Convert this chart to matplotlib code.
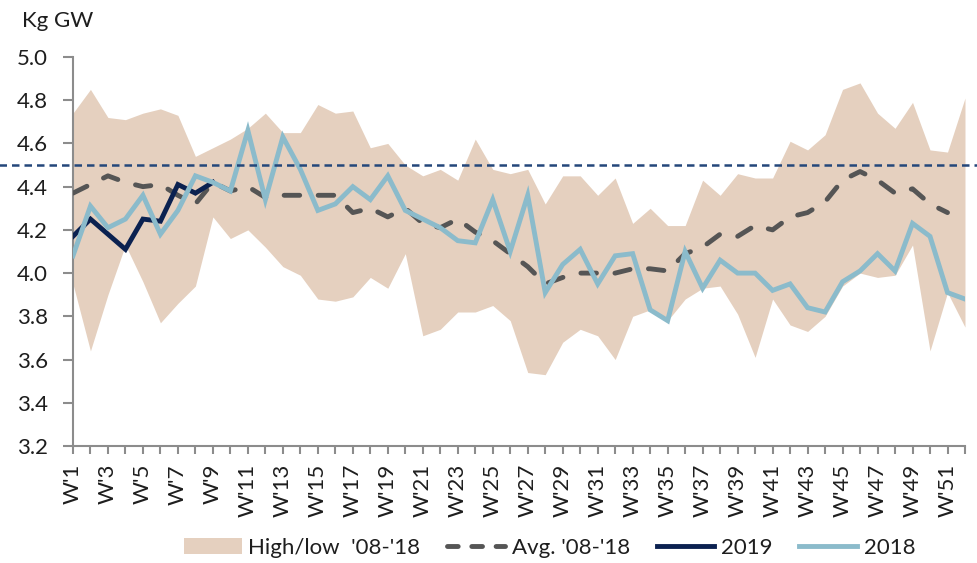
import numpy as np
import matplotlib
matplotlib.use("Agg")
import matplotlib.pyplot as plt
from matplotlib.patches import Patch
from matplotlib.ticker import MultipleLocator, FormatStrFormatter

plt.rcParams['font.family'] = ['Lato', 'DejaVu Sans']

# weekly values, Kg GW
weeks = np.arange(1, 53)
week_labels = ["W'%d" % w for w in weeks]

high = [4.74, 4.85, 4.72, 4.71, 4.74, 4.76, 4.73, 4.54, 4.58, 4.62,
        4.67, 4.74, 4.65, 4.65, 4.78, 4.74, 4.75, 4.58, 4.60, 4.50,
        4.45, 4.48, 4.43, 4.62, 4.48, 4.46, 4.48, 4.32, 4.45, 4.45,
        4.36, 4.44, 4.23, 4.30, 4.22, 4.22, 4.43, 4.36, 4.46, 4.44,
        4.44, 4.61, 4.57, 4.64, 4.85, 4.88, 4.74, 4.67, 4.79, 4.57,
        4.56, 4.81]
low = [3.95, 3.64, 3.90, 4.13, 3.96, 3.77, 3.86, 3.94, 4.26, 4.16,
       4.20, 4.12, 4.03, 3.99, 3.88, 3.87, 3.89, 3.98, 3.93, 4.09,
       3.71, 3.74, 3.82, 3.82, 3.85, 3.78, 3.54, 3.53, 3.68, 3.74,
       3.71, 3.60, 3.80, 3.83, 3.78, 3.88, 3.93, 3.94, 3.81, 3.61,
       3.88, 3.76, 3.73, 3.80, 3.94, 4.00, 3.98, 3.99, 4.13, 3.64,
       3.91, 3.75]
avg = [4.37, 4.41, 4.45, 4.42, 4.40, 4.41, 4.36, 4.32, 4.42, 4.38,
       4.40, 4.35, 4.36, 4.36, 4.36, 4.36, 4.28, 4.30, 4.26, 4.30,
       4.23, 4.21, 4.25, 4.19, 4.15, 4.09, 4.03, 3.95, 3.98, 4.00,
       4.00, 4.00, 4.02, 4.02, 4.01, 4.09, 4.12, 4.18, 4.17, 4.22,
       4.20, 4.26, 4.28, 4.33, 4.43, 4.47, 4.43, 4.37, 4.39, 4.32,
       4.28]
y2018 = [4.08, 4.31, 4.21, 4.25, 4.36, 4.18, 4.29, 4.45, 4.42, 4.38,
         4.66, 4.34, 4.63, 4.48, 4.29, 4.32, 4.40, 4.34, 4.45, 4.29,
         4.25, 4.21, 4.15, 4.14, 4.34, 4.10, 4.36, 3.91, 4.04, 4.11,
         3.95, 4.08, 4.09, 3.83, 3.78, 4.10, 3.93, 4.06, 4.00, 4.00,
         3.92, 3.95, 3.84, 3.82, 3.96, 4.01, 4.09, 4.01, 4.23, 4.17,
         3.91, 3.88]
y2019 = [4.17, 4.25, 4.18, 4.11, 4.25, 4.24, 4.41, 4.37, 4.42]
ref_level = 4.5

band_col = '#E5D0BF'
avg_col = '#555555'
col2019 = '#0B2150'
col2018 = '#8BBBCB'
ref_col = '#24477A'
axis_col = '#8C8C8C'
text_col = '#1E1E1E'

fig = plt.figure(figsize=(9.78, 5.63), dpi=100)
ax = fig.add_axes([0.0746, 0.2078, 0.9121, 0.6910])

ax.fill_between(weeks, low, high, color=band_col, lw=0, zorder=1)
ax.plot(weeks[:len(avg)], avg, color=avg_col, lw=3.5, dashes=(3.2, 3.8),
        dash_capstyle='round', zorder=3)
ax.plot(weeks[:len(y2019)], y2019, color=col2019, lw=3.5,
        solid_joinstyle='miter', zorder=4)
ax.plot(weeks, y2018, color=col2018, lw=3.5, solid_joinstyle='miter', zorder=5)
ax.axhline(ref_level, xmin=-0.085, xmax=1.02, color=ref_col, lw=1.8,
           dashes=(3.0, 2.0), clip_on=False, zorder=6)

ax.set_xlim(1, 52)
ax.set_ylim(3.2, 5.0)
ax.yaxis.set_major_locator(MultipleLocator(0.2))
ax.yaxis.set_major_formatter(FormatStrFormatter('%.1f'))
ax.set_xticks(weeks)
ax.set_xticklabels([lab if w % 2 == 1 else '' for w, lab in zip(weeks, week_labels)],
                   rotation=90)

for s in ['top', 'right']:
    ax.spines[s].set_visible(False)
for s in ['left', 'bottom']:
    ax.spines[s].set_color(axis_col)
    ax.spines[s].set_linewidth(1.5)
ax.tick_params(axis='y', length=7, width=1.5, color=axis_col, pad=11,
               labelsize=16, labelcolor=text_col)
ax.tick_params(axis='x', length=6, width=1.5, color=axis_col, pad=7,
               labelsize=16, labelcolor=text_col)

fig.text(0.022, 0.952, 'Kg GW', fontsize=16, color=text_col, va='baseline')

handles = [
    Patch(facecolor=band_col, edgecolor='none'),
    plt.Line2D([], [], color=avg_col, lw=3.5, dashes=(2.2, 2.8), dash_capstyle='round'),
    plt.Line2D([], [], color=col2019, lw=3.5),
    plt.Line2D([], [], color=col2018, lw=3.5),
]
labels = ["High/low  '08-'18", "Avg. '08-'18", '2019', '2018']
fig.legend(handles, labels, loc='center', bbox_to_anchor=(0.562, 0.027), ncol=4,
           frameon=False, fontsize=16, handlelength=2.6, handletextpad=0.3,
           columnspacing=1.2, labelcolor=text_col)

fig.savefig('out.png', dpi=100)
